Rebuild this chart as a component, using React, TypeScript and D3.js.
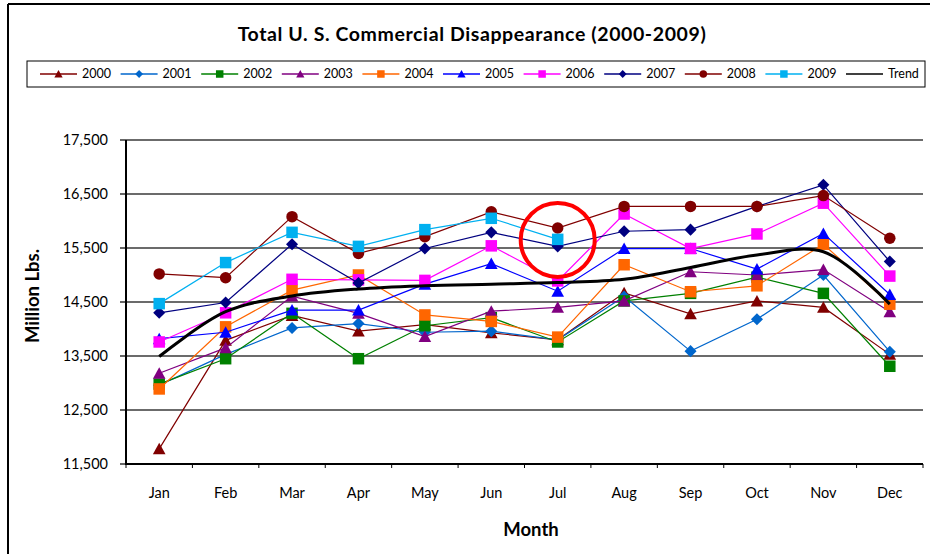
import React from "react";
import * as d3 from "d3";

const months = ["Jan", "Feb", "Mar", "Apr", "May", "Jun", "Jul", "Aug", "Sep", "Oct", "Nov", "Dec"];
const yTicks = [11500, 12500, 13500, 14500, 15500, 16500, 17500];

const s2000 = [11780, 13790, 14250, 13960, 14080, 13930, 13800, 14670, 14280, 14520, 14400, 13530];
const s2001 = [12960, 13530, 14020, 14100, 13940, 13960, 13800, 14600, 13590, 14180, 15000, 13580];
const s2002 = [12980, 13450, 14290, 13450, 14060, 14210, 13760, 14520, 14660, 14960, 14660, 13310];
const s2003 = [13180, 13650, 14610, 14290, 13860, 14330, 14400, 14520, 15060, 15000, 15100, 14320];
const s2004 = [12890, 14040, 14720, 15000, 14260, 14140, 13850, 15190, 14690, 14800, 15570, 14460];
const s2005 = [13820, 13940, 14350, 14350, 14830, 15210, 14700, 15490, 15490, 15110, 15770, 14640];
const s2006 = [13760, 14300, 14920, 14910, 14900, 15540, 14890, 16130, 15490, 15760, 16330, 14980];
const s2007 = [14300, 14490, 15570, 14850, 15490, 15790, 15530, 15810, 15840, 16270, 16670, 15250];
const s2008 = [15020, 14950, 16080, 15400, 15710, 16170, 15870, 16270, 16270, 16270, 16470, 15680];
const s2009 = [14470, 15230, 15790, 15530, 15840, 16050, 15660, null, null, null, null, null];
const trend = [13490, 14320, 14610, 14740, 14800, 14830, 14860, 14920, 15140, 15370, 15430, 14460];

const highlightMonth = "Jul";
const highlightValue = 15650;

type Marker = "triangle" | "diamond" | "square" | "circle";
const seriesNames = ["2000", "2001", "2002", "2003", "2004", "2005", "2006", "2007", "2008", "2009"];
const seriesValues = [s2000, s2001, s2002, s2003, s2004, s2005, s2006, s2007, s2008, s2009];
const seriesColors = ["#800000", "#0066CC", "#008000", "#800080", "#FF6600", "#0000FF", "#FF00FF", "#000080", "#800000", "#00B0F0"];
const seriesMarkers: Marker[] = ["triangle", "diamond", "square", "triangle", "square", "triangle", "square", "diamond", "circle", "square"];

const FONT = "Lato, 'Open Sans', sans-serif";

function MarkerShape({ type, x, y, size, color }: { type: Marker; x: number; y: number; size: number; color: string }) {
  const h = size / 2;
  if (type === "triangle") {
    return <path d={`M${x},${y - h * 1.05} L${x + h * 1.1},${y + h * 0.95} L${x - h * 1.1},${y + h * 0.95} Z`} fill={color} />;
  }
  if (type === "diamond") {
    const d = h * 1.05;
    return <path d={`M${x},${y - d} L${x + d},${y} L${x},${y + d} L${x - d},${y} Z`} fill={color} />;
  }
  if (type === "square") {
    return <rect x={x - h} y={y - h} width={size} height={size} fill={color} />;
  }
  return <circle cx={x} cy={y} r={h} fill={color} />;
}

export default function App() {
  const W = 930;
  const H = 554;
  const left = 126;
  const right = 923;
  const top = 140;
  const bottom = 464;

  const x = d3.scaleBand<string>().domain(months).range([left, right]).paddingInner(0).paddingOuter(0);
  const y = d3.scaleLinear().domain([11500, 17500]).range([bottom, top]);
  const cx = (m: string) => (x(m) as number) + x.bandwidth() / 2;

  const line = d3
    .line<[string, number | null]>()
    .defined((d) => d[1] !== null)
    .x((d) => cx(d[0]))
    .y((d) => y(d[1] as number));

  const trendLine = d3
    .line<[string, number]>()
    .x((d) => cx(d[0]))
    .y((d) => y(d[1]))
    .curve(d3.curveCatmullRom.alpha(0.5));

  const bounds = months.map((m) => x(m) as number).concat([right]);
  const legendItems = seriesNames.map((n, i) => ({ name: n, color: seriesColors[i], marker: seriesMarkers[i] as Marker | null }));
  legendItems.push({ name: "Trend", color: "#000", marker: null });

  return (
    <svg width={W} height={H} style={{ position: "fixed", left: 0, top: 0, background: "#fff" }} fontFamily={FONT}>
      <rect x={0} y={0} width={W} height={H} fill="#fff" />
      {/* outer frame */}
      <line x1={8} y1={4} x2={W} y2={4} stroke="#000" strokeWidth={2} />
      <line x1={8} y1={4} x2={8} y2={H} stroke="#000" strokeWidth={2} />

      <text x={472} y={41} textAnchor="middle" fontSize={19.5} fontWeight="bold" letterSpacing={0.6} fill="#000">
        Total U. S. Commercial Disappearance (2000-2009)
      </text>

      {/* legend */}
      <rect x={27} y={61} width={898} height={26} fill="#fff" stroke="#000" strokeWidth={1} />
      {legendItems.map((it, i) => {
        const x0 = 40 + i * 80.6;
        const ly = 74;
        return (
          <g key={it.name}>
            <line x1={x0} y1={ly} x2={x0 + 37} y2={ly} stroke={it.color} strokeWidth={1.3} />
            {it.marker && <MarkerShape type={it.marker} x={x0 + 18.5} y={ly} size={7.5} color={it.color} />}
            <text x={x0 + 42} y={ly} dy="0.35em" fontSize={12.5} fill="#000">
              {it.name}
            </text>
          </g>
        );
      })}

      {/* gridlines */}
      {yTicks.slice(1).map((t) => (
        <line key={t} x1={left} x2={right} y1={y(t)} y2={y(t)} stroke="#3a3a3a" strokeWidth={1.4} />
      ))}

      {/* y axis */}
      {yTicks.map((t) => (
        <g key={t}>
          <line x1={left - 6} x2={left} y1={y(t)} y2={y(t)} stroke="#000" strokeWidth={1.2} />
          <text x={108} y={y(t)} dy="0.35em" textAnchor="end" fontSize={14.5} fill="#000">
            {d3.format(",")(t)}
          </text>
        </g>
      ))}
      <line x1={left} x2={left} y1={top} y2={bottom + 1} stroke="#000" strokeWidth={2} />

      {/* x axis */}
      <line x1={left - 1} x2={right} y1={bottom} y2={bottom} stroke="#000" strokeWidth={2} />
      {bounds.map((b, i) => (
        <line key={i} x1={b} x2={b} y1={bottom} y2={bottom + 4} stroke="#000" strokeWidth={1} />
      ))}
      {months.map((m) => (
        <text key={m} x={cx(m)} y={493} dy="0.35em" textAnchor="middle" fontSize={14.5} fill="#000">
          {m}
        </text>
      ))}

      <text x={531} y={530} dy="0.35em" textAnchor="middle" fontSize={18.5} fontWeight="bold" fill="#000">
        Month
      </text>
      <text transform={`translate(33,296) rotate(-90)`} textAnchor="middle" dy="0.35em" fontSize={18.5} fontWeight="bold" fill="#000">
        Million Lbs.
      </text>

      {/* series */}
      {seriesValues.map((vals, si) => {
        const pts = months.map((m, i) => [m, vals[i]] as [string, number | null]);
        return (
          <g key={seriesNames[si]}>
            <path d={line(pts) || ""} fill="none" stroke={seriesColors[si]} strokeWidth={1.2} />
            {pts
              .filter((p) => p[1] !== null)
              .map((p) => (
                <MarkerShape key={p[0]} type={seriesMarkers[si]} x={cx(p[0])} y={y(p[1] as number)} size={11.5} color={seriesColors[si]} />
              ))}
          </g>
        );
      })}

      {/* trend */}
      <path d={trendLine(months.map((m, i) => [m, trend[i]] as [string, number])) || ""} fill="none" stroke="#000" strokeWidth={3} />

      {/* highlight circle */}
      <circle cx={cx(highlightMonth)} cy={y(highlightValue)} r={37} fill="none" stroke="#FF0000" strokeWidth={4} />
    </svg>
  );
}
